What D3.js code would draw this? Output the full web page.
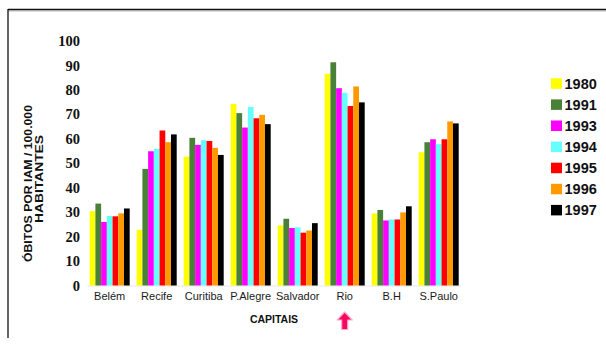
<!DOCTYPE html>
<html>
<head>
<meta charset="utf-8">
<script src="https://cdn.jsdelivr.net/npm/d3@7"></script>
<style>
  html, body { margin: 0; padding: 0; background: #fff; }
  svg { display: block; }
</style>
</head>
<body>
<svg id="chart" width="606" height="349"></svg>
<script>
// Capitals on the x axis
const capitais = ["Belém", "Recife", "Curitiba", "P.Alegre", "Salvador", "Rio", "B.H", "S.Paulo"];
// Years shown as series
const anos = ["1980", "1991", "1993", "1994", "1995", "1996", "1997"];
const coresAnos = ["#ffff00", "#4a8138", "#ff00ff", "#66ffff", "#ff0000", "#ff9900", "#000000"];

// Deaths from AMI per 100,000 inhabitants, one array per year (order follows capitais)
const obitos1980 = [30.4, 22.8, 52.7, 74.3, 24.6, 86.6, 29.5, 54.5];
const obitos1991 = [33.5, 47.7, 60.4, 70.5, 27.3, 91.3, 30.9, 58.6];
const obitos1993 = [26.0, 54.9, 57.5, 64.6, 23.5, 80.7, 26.6, 59.8];
const obitos1994 = [28.5, 55.9, 59.4, 73.0, 23.8, 78.8, 27.0, 57.8];
const obitos1995 = [28.3, 63.4, 59.1, 68.4, 21.6, 73.4, 27.0, 59.8];
const obitos1996 = [29.5, 58.6, 56.3, 69.8, 22.5, 81.4, 29.9, 67.1];
const obitos1997 = [31.5, 61.8, 53.4, 66.0, 25.5, 74.9, 32.4, 66.3];

const yTicks = [0, 10, 20, 30, 40, 50, 60, 70, 80, 90, 100];

const series = [obitos1980, obitos1991, obitos1993, obitos1994, obitos1995, obitos1996, obitos1997];

const svg = d3.select("#chart");

// Frame lines (top and left)
svg.append("line").attr("x1", 8).attr("x2", 606).attr("y1", 11).attr("y2", 11)
  .attr("stroke", "#bbb").attr("stroke-width", 1);
svg.append("line").attr("x1", 8).attr("x2", 606).attr("y1", 9.5).attr("y2", 9.5)
  .attr("stroke", "#111").attr("stroke-width", 1.6);
svg.append("line").attr("x1", 8).attr("x2", 8).attr("y1", 9).attr("y2", 338)
  .attr("stroke", "#111").attr("stroke-width", 1.3);

const x = d3.scaleBand().domain(capitais).range([89.7, 458.7]).paddingInner(0.149).paddingOuter(0);
const xi = d3.scaleBand().domain(anos).range([0, x.bandwidth()]).padding(0);
const y = d3.scaleLinear().domain([0, 100]).range([285.5, 41]);

// Faint baseline
svg.append("line").attr("x1", 88).attr("x2", 461).attr("y1", 286).attr("y2", 286)
  .attr("stroke", "#e6e6e6").attr("stroke-width", 1);

// Bars
const groups = svg.append("g").selectAll("g")
  .data(capitais)
  .join("g")
  .attr("transform", d => `translate(${x(d)},0)`);

groups.selectAll("rect")
  .data((c, ci) => anos.map((a, ai) => ({ ano: a, ai, v: series[ai][ci] })))
  .join("rect")
  .attr("x", d => xi(d.ano))
  .attr("width", xi.bandwidth())
  .attr("y", d => y(d.v))
  .attr("height", d => y(0) - y(d.v))
  .attr("fill", d => coresAnos[d.ai]);

// Y axis (labels only)
const yAxis = svg.append("g")
  .attr("transform", "translate(82,0)")
  .call(d3.axisLeft(y).tickValues(yTicks).tickSize(0).tickPadding(2));
yAxis.select(".domain").remove();
yAxis.selectAll("text")
  .attr("font-family", "'Liberation Serif', 'Times New Roman', serif")
  .attr("font-weight", "bold")
  .attr("font-size", 14.5)
  .attr("fill", "#111");

// X axis labels
const xAxis = svg.append("g")
  .attr("transform", "translate(0,292)")
  .call(d3.axisBottom(x).tickSize(0).tickPadding(0));
xAxis.select(".domain").remove();
xAxis.selectAll("text")
  .attr("font-family", "'Liberation Sans', Arial, sans-serif")
  .attr("font-size", 11)
  .attr("fill", "#1a1a1a");

// Axis titles
svg.append("text")
  .attr("x", 274).attr("y", 323)
  .attr("text-anchor", "middle")
  .attr("font-family", "'Liberation Sans', Arial, sans-serif")
  .attr("font-weight", "bold")
  .attr("font-size", 10.5)
  .attr("fill", "#111")
  .text("CAPITAIS");

const yTitle = svg.append("g")
  .attr("font-family", "'Liberation Sans', Arial, sans-serif")
  .attr("font-weight", "bold")
  .attr("font-size", 11.5)
  .attr("fill", "#111")
  .attr("text-anchor", "middle");
yTitle.append("text")
  .attr("transform", "translate(32,183.5) rotate(-90)")
  .attr("textLength", 157).attr("lengthAdjust", "spacingAndGlyphs")
  .text("ÓBITOS POR IAM / 100.000");
yTitle.append("text")
  .attr("transform", "translate(42.5,179) rotate(-90)")
  .attr("textLength", 88).attr("lengthAdjust", "spacingAndGlyphs")
  .text("HABITANTES");

// Legend
const legend = svg.append("g").selectAll("g")
  .data(anos)
  .join("g")
  .attr("transform", (d, i) => `translate(551,${83.3 + i * 21.1})`);
legend.append("rect")
  .attr("x", 0).attr("y", -5).attr("width", 11).attr("height", 10.5)
  .attr("fill", (d, i) => coresAnos[i]);
legend.append("text")
  .attr("x", 13.5).attr("y", 5.2)
  .attr("font-family", "'Liberation Sans', Arial, sans-serif")
  .attr("font-weight", "bold")
  .attr("font-size", 14.5)
  .attr("fill", "#111")
  .text(d => d);

// Arrow pointing to Rio
const ax = x("Rio") + x.bandwidth() / 2;
svg.append("path")
  .attr("d", `M${ax},312 L${ax + 7.5},320 L${ax + 3},320 L${ax + 3},329.5 L${ax - 3},329.5 L${ax - 3},320 L${ax - 7.5},320 Z`)
  .attr("fill", "#f7085f")
  .attr("stroke", "#ffa6cc")
  .attr("stroke-width", 1.2)
  .attr("stroke-linejoin", "round");
</script>
</body>
</html>
